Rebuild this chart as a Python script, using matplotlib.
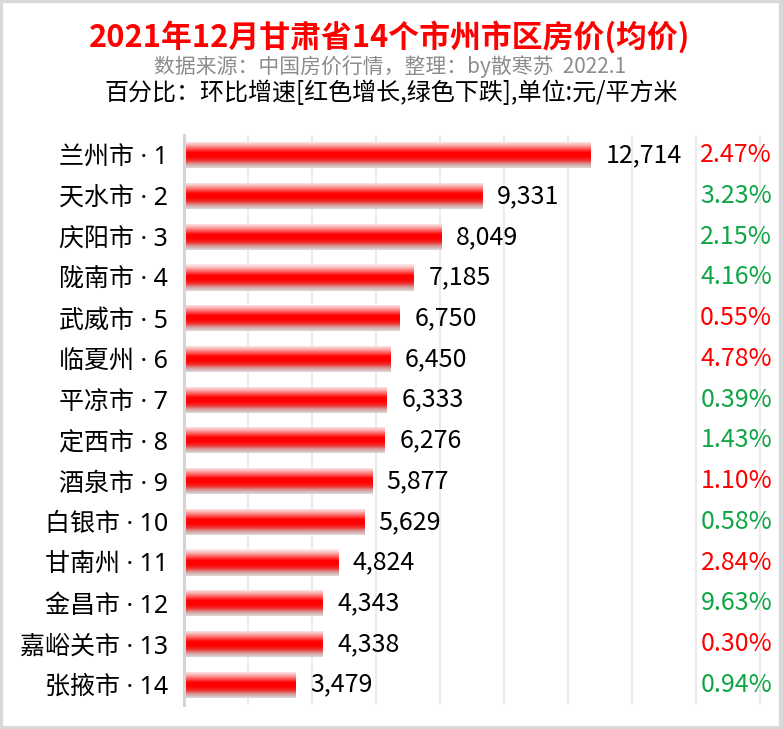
import matplotlib
matplotlib.use("Agg")
import matplotlib.pyplot as plt
import numpy as np
from matplotlib.colors import LinearSegmentedColormap
from matplotlib.patches import Rectangle
import matplotlib.transforms as mtransforms

plt.rcParams['font.family'] = ['Noto Sans CJK SC', 'DejaVu Sans']

cities = ["兰州市", "天水市", "庆阳市", "陇南市", "武威市", "临夏州", "平凉市",
          "定西市", "酒泉市", "白银市", "甘南州", "金昌市", "嘉峪关市", "张掖市"]
prices = [12714, 9331, 8049, 7185, 6750, 6450, 6333, 6276, 5877, 5629, 4824, 4343, 4338, 3479]
changes = [2.47, 3.23, 2.15, 4.16, 0.55, 4.78, 0.39, 1.43, 1.10, 0.58, 2.84, 9.63, 0.30, 0.94]
rising = [True, False, False, False, True, True, False, False, True, False, True, False, True, False]

title = "2021年12月甘肃省14个市州市区房价(均价)"
subtitle = "数据来源：中国房价行情，整理：by散寒苏  2022.1"
note = "百分比：环比增速[红色增长,绿色下跌],单位:元/平方米"

fig = plt.figure(figsize=(7.83, 7.29), dpi=100)
ax = fig.add_axes([184/783, 24/729, 592/783, 570/729])

y = np.arange(len(cities))
labels = [f"{c} · {i+1}" for i, c in enumerate(cities)]
bars = ax.barh(y, prices, height=0.64, color='none', edgecolor='none', zorder=3)

cmap = LinearSegmentedColormap.from_list("bar", [
    (0.0, "#fdf0f0"), (0.12, "#f8c0c0"), (0.3, "#ff5050"), (0.42, "#ff0000"),
    (0.58, "#ff0000"), (0.72, "#f03030"), (0.85, "#d89898"), (1.0, "#dcdcdc")])
grad = np.linspace(0, 1, 256).reshape(-1, 1)
for b in bars:
    x0, y0, w, h = b.get_x(), b.get_y(), b.get_width(), b.get_height()
    im = ax.imshow(grad, cmap=cmap, aspect='auto', extent=(x0, x0 + w, y0 + h, y0),
                   origin='upper', zorder=3, interpolation='bilinear')
    im.set_clip_path(b)

ax.bar_label(bars, labels=[f"{v:,}" for v in prices], padding=10.5, fontsize=18, color='#000000')

trans = mtransforms.blended_transform_factory(ax.transAxes, ax.transData)
for yi, c, r in zip(y, changes, rising):
    ax.text(0.9935, yi, f"{c:.2f}%", transform=trans, ha='right', va='center',
            fontsize=18, color='#ff0000' if r else '#10a545')

ax.set_xlim(0, 18500)
ax.set_ylim(len(cities) - 0.5, -0.5)
ax.set_yticks(y)
ax.set_yticklabels(labels, fontsize=18, family=['Noto Sans', 'Noto Sans CJK SC'])
ax.tick_params(axis='y', length=0, pad=11.5)
ax.set_xticks(np.arange(0, 18001, 2000))
ax.tick_params(axis='x', length=0, labelbottom=False)
ax.grid(axis='x', color='#ebebeb', linewidth=1.5, zorder=0)
ax.set_axisbelow(True)
for s in ['top', 'right', 'bottom']:
    ax.spines[s].set_visible(False)
ax.spines['left'].set_color('#d4d4d4')
ax.spines['left'].set_linewidth(2.2)
ax.spines['left'].set_zorder(4)

fig.text(0.497, 0.949, title, ha='center', va='center', fontsize=22.2, fontweight='bold', color='#ff0000')
fig.text(0.498, 0.909, subtitle, ha='center', va='center', fontsize=15, color='#8c8c8c')
fig.text(0.5, 0.872, note, ha='center', va='center', fontsize=17.3, color='#000000')

fig.patches.append(Rectangle((0.001, 0.001), 0.997, 0.997, transform=fig.transFigure,
                             fill=False, edgecolor='#d9d9d9', linewidth=3))

fig.savefig("out.png", dpi=100)
